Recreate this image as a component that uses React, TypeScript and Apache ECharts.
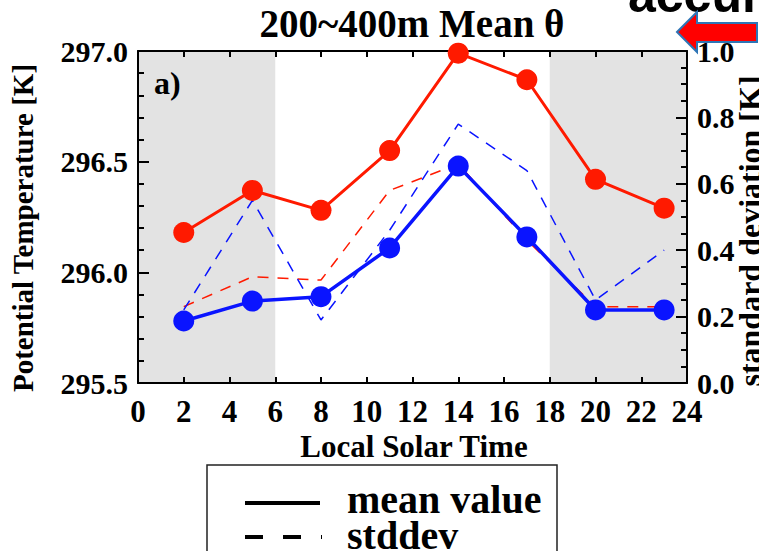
import React, { useEffect, useRef } from "react";
import * as echarts from "echarts";

const hours = [2, 5, 8, 11, 14, 17, 20, 23];
const meanRed = [296.18, 296.37, 296.28, 296.55, 296.99, 296.87, 296.42, 296.29];
const meanBlue = [295.78, 295.87, 295.89, 296.11, 296.48, 296.16, 295.83, 295.83];
const stdRed = [0.23, 0.32, 0.31, 0.58, 0.66, 0.43, 0.23, 0.23];
const stdBlue = [0.22, 0.55, 0.19, 0.46, 0.78, 0.64, 0.25, 0.4];
const nightBands = [
  [0, 6],
  [18, 24],
];
const xTicks = { min: 0, max: 24, interval: 2 };
const yLeft = { min: 295.5, max: 297.0, interval: 0.5 };
const yRight = { min: 0, max: 1.0, interval: 0.2 };

const SERIF = "'Liberation Serif', 'Times New Roman', serif";
const RED = "#ff1a00";
const BLUE = "#0a14ff";

export default function App() {
  const ref = useRef<HTMLDivElement>(null);
  useEffect(() => {
    document.body.style.margin = "0";
    if (!ref.current) return;
    const chart = echarts.init(ref.current, undefined, { renderer: "svg" });
    const axisLineStyle = { color: "#000", width: 2 };
    const labelStyle = {
      fontSize: 31,
      fontWeight: "bold" as const,
      fontFamily: SERIF,
      color: "#000",
    };
    const pair = (ys: number[]) => hours.map((h, i) => [h, ys[i]]);
    chart.setOption({
      animation: false,
      backgroundColor: "#fff",
      grid: { left: 138, right: 72, top: 51, bottom: 168, show: false },
      xAxis: [
        {
          type: "value",
          position: "bottom",
          ...xTicks,
          z: 3,
          axisLine: { show: true, onZero: false, lineStyle: axisLineStyle },
          axisTick: { show: true, inside: true, length: 6, lineStyle: { color: "#000", width: 2 } },
          axisLabel: { ...labelStyle, margin: 13 },
          splitLine: { show: false },
        },
        {
          type: "value",
          position: "top",
          ...xTicks,
          z: 3,
          axisLine: { show: true, onZero: false, lineStyle: axisLineStyle },
          axisTick: { show: true, inside: true, length: 6, lineStyle: { color: "#000", width: 2 } },
          axisLabel: { show: false },
          splitLine: { show: false },
        },
      ],
      yAxis: [
        {
          type: "value",
          position: "left",
          ...yLeft,
          z: 3,
          axisLine: { show: true, onZero: false, lineStyle: axisLineStyle },
          axisTick: { show: true, inside: true, length: 11, lineStyle: { color: "#000", width: 2 } },
          minorTick: { show: true, splitNumber: 5, length: 6, lineStyle: { color: "#000", width: 2 } },
          axisLabel: { ...labelStyle, fontSize: 30, margin: 10, formatter: (v: number) => v.toFixed(1) },
          splitLine: { show: false },
        },
        {
          type: "value",
          position: "right",
          ...yRight,
          z: 3,
          axisLine: { show: true, onZero: false, lineStyle: axisLineStyle },
          axisTick: { show: true, inside: true, length: 11, lineStyle: { color: "#000", width: 2 } },
          minorTick: { show: true, splitNumber: 4, length: 6, lineStyle: { color: "#000", width: 2 } },
          axisLabel: { ...labelStyle, fontSize: 30, margin: 10, formatter: (v: number) => v.toFixed(1) },
          splitLine: { show: false },
        },
      ],
      series: [
        {
          type: "custom",
          z: 1,
          xAxisIndex: 0,
          yAxisIndex: 0,
          silent: true,
          data: nightBands,
          renderItem: (params: any, api: any) => {
            const p0 = api.coord([api.value(0), yLeft.max]);
            const p1 = api.coord([api.value(1), yLeft.min]);
            return {
              type: "rect",
              shape: { x: p0[0], y: p0[1], width: p1[0] - p0[0], height: p1[1] - p0[1] },
              style: { fill: "#e3e3e3" },
            };
          },
        },
        {
          type: "line",
          z: 4,
          yAxisIndex: 1,
          data: pair(stdRed),
          symbol: "none",
          lineStyle: { color: RED, width: 1.5, type: [11, 9] },
        },
        {
          type: "line",
          z: 4,
          yAxisIndex: 1,
          data: pair(stdBlue),
          symbol: "none",
          lineStyle: { color: BLUE, width: 1.5, type: [11, 9] },
        },
        {
          type: "line",
          z: 5,
          yAxisIndex: 0,
          data: pair(meanRed),
          symbol: "circle",
          symbolSize: 21,
          itemStyle: { color: RED },
          lineStyle: { color: RED, width: 3 },
        },
        {
          type: "line",
          z: 5,
          yAxisIndex: 0,
          data: pair(meanBlue),
          symbol: "circle",
          symbolSize: 21,
          itemStyle: { color: BLUE },
          lineStyle: { color: BLUE, width: 3.5 },
        },
      ],
      graphic: [
        {
          type: "text",
          x: 412,
          y: 23,
          style: {
            text: "200~400m Mean θ",
            font: `bold 39px ${SERIF}`,
            fill: "#000",
            align: "center",
            verticalAlign: "middle",
          },
        },
        {
          type: "text",
          x: 154,
          y: 83,
          z: 10,
          style: {
            text: "a)",
            font: `bold 32px ${SERIF}`,
            fill: "#000",
            align: "left",
            verticalAlign: "middle",
          },
        },
        {
          type: "text",
          x: 23,
          y: 228,
          rotation: Math.PI / 2,
          style: {
            text: "Potential Temperature [K]",
            font: `bold 29px ${SERIF}`,
            fill: "#000",
            align: "center",
            verticalAlign: "middle",
          },
        },
        {
          type: "text",
          x: 750,
          y: 231,
          rotation: Math.PI / 2,
          style: {
            text: "standard deviation [K]",
            font: `bold 32px ${SERIF}`,
            fill: "#000",
            align: "center",
            verticalAlign: "middle",
          },
        },
        {
          type: "text",
          x: 414,
          y: 446,
          style: {
            text: "Local Solar Time",
            font: `bold 31px ${SERIF}`,
            fill: "#000",
            align: "center",
            verticalAlign: "middle",
          },
        },
        {
          type: "text",
          x: 628,
          y: -5,
          style: {
            text: "accumulated",
            font: `bold 50px 'Liberation Sans', Arial, sans-serif`,
            fill: "#000",
            align: "left",
            verticalAlign: "middle",
          },
        },
        {
          type: "polygon",
          shape: {
            points: [
              [677, 32],
              [697, 12],
              [697, 23],
              [757, 23],
              [757, 42],
              [697, 42],
              [697, 52],
            ],
          },
          style: { fill: "#ff0000", stroke: "#2e75b6", lineWidth: 2 },
        },
        {
          type: "rect",
          shape: { x: 207, y: 465, width: 350, height: 100 },
          style: { fill: "rgba(0,0,0,0)", stroke: "#222", lineWidth: 1.5 },
        },
        {
          type: "line",
          shape: { x1: 245, y1: 503, x2: 320, y2: 503 },
          style: { stroke: "#000", lineWidth: 4 },
        },
        {
          type: "text",
          x: 347,
          y: 499,
          style: {
            text: "mean value",
            font: `bold 40px ${SERIF}`,
            fill: "#000",
            align: "left",
            verticalAlign: "middle",
          },
        },
        {
          type: "line",
          shape: { x1: 245, y1: 537, x2: 322, y2: 537 },
          style: { stroke: "#000", lineWidth: 4, lineDash: [18, 20] },
        },
        {
          type: "text",
          x: 347,
          y: 535,
          style: {
            text: "stddev",
            font: `bold 40px ${SERIF}`,
            fill: "#000",
            align: "left",
            verticalAlign: "middle",
          },
        },
      ],
    });
    return () => chart.dispose();
  }, []);
  return <div ref={ref} style={{ width: 759, height: 551 }} />;
}
